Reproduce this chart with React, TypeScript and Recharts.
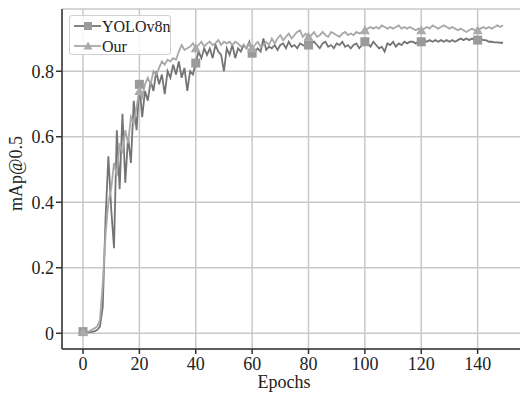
import { LineChart, Line, XAxis, YAxis, CartesianGrid, Legend } from 'recharts';

const epochs = Array.from({ length: 150 }, (_, i) => i);

const yolov8n = [
  0.005, 0.003, 0.003, 0.004, 0.006, 0.01, 0.02, 0.08, 0.35, 0.54,
  0.38, 0.26, 0.62, 0.44, 0.67, 0.46, 0.6, 0.52, 0.71, 0.62,
  0.76, 0.66, 0.74, 0.71, 0.77, 0.74, 0.8, 0.76, 0.79, 0.73,
  0.8, 0.78, 0.82, 0.79, 0.83, 0.78, 0.81, 0.74, 0.8, 0.79,
  0.825, 0.86, 0.84, 0.87, 0.85, 0.87, 0.84, 0.88, 0.86, 0.85,
  0.8, 0.87, 0.85, 0.88, 0.84, 0.87, 0.86, 0.88, 0.87, 0.89,
  0.855, 0.86, 0.87, 0.86, 0.9, 0.865, 0.875, 0.87, 0.88, 0.865,
  0.88, 0.885, 0.87, 0.89, 0.875, 0.88, 0.87, 0.885, 0.88, 0.875,
  0.88, 0.885, 0.89, 0.88, 0.87, 0.885, 0.89, 0.875, 0.88, 0.87,
  0.885, 0.88, 0.89, 0.875, 0.88, 0.87, 0.88, 0.885, 0.87, 0.88,
  0.89, 0.885, 0.875, 0.89, 0.88, 0.87, 0.875, 0.86, 0.885, 0.88,
  0.89, 0.875, 0.885, 0.88, 0.89, 0.885, 0.89, 0.89, 0.885, 0.89,
  0.89, 0.895, 0.89, 0.895, 0.89, 0.895, 0.89, 0.895, 0.89, 0.895,
  0.89, 0.895, 0.89, 0.895, 0.9, 0.895, 0.9, 0.895, 0.9, 0.895,
  0.895, 0.9, 0.895, 0.895, 0.89, 0.89, 0.888, 0.888, 0.887, 0.887,
];

const ours = [
  0.005, 0.004, 0.005, 0.01, 0.015, 0.02, 0.04, 0.15, 0.3, 0.4,
  0.44, 0.52, 0.48, 0.58, 0.55, 0.62, 0.58, 0.66, 0.64, 0.69,
  0.74, 0.72, 0.76, 0.78, 0.76, 0.8, 0.79, 0.81, 0.83, 0.82,
  0.835, 0.83, 0.84, 0.835, 0.86, 0.88, 0.865, 0.87, 0.875, 0.885,
  0.87, 0.88, 0.89, 0.875, 0.885, 0.89, 0.88, 0.885, 0.895, 0.88,
  0.89, 0.885, 0.89, 0.88, 0.89, 0.885, 0.875, 0.88, 0.87, 0.885,
  0.87, 0.88, 0.89, 0.875, 0.88, 0.89, 0.88, 0.9, 0.885, 0.9,
  0.91, 0.895, 0.905, 0.915, 0.9, 0.91, 0.92, 0.925, 0.905, 0.915,
  0.905, 0.91, 0.92, 0.905, 0.91, 0.92, 0.91, 0.905, 0.92, 0.915,
  0.91, 0.905, 0.915, 0.92, 0.91, 0.915, 0.91, 0.92, 0.915, 0.92,
  0.925, 0.93, 0.935, 0.93, 0.935, 0.93, 0.94, 0.935, 0.93, 0.935,
  0.93, 0.935, 0.94, 0.93, 0.935, 0.93, 0.935, 0.93, 0.925, 0.93,
  0.925, 0.93, 0.935, 0.93, 0.94, 0.935, 0.93, 0.935, 0.94, 0.935,
  0.93, 0.935, 0.93, 0.925, 0.93, 0.925, 0.92, 0.925, 0.93, 0.925,
  0.925, 0.93, 0.935, 0.93, 0.935, 0.93, 0.935, 0.94, 0.935, 0.94,
];

const xTicks = [0, 20, 40, 60, 80, 100, 120, 140];
const yTicks = [0, 0.2, 0.4, 0.6, 0.8];

const data = epochs.map((e, i) => ({ epoch: e, yolo: yolov8n[i], ours: ours[i] }));

const FONT = '"Liberation Serif", "DejaVu Serif", serif';
const YOLO_COLOR = '#747474';
const OUR_COLOR = '#a8a8a8';
const SQUARE_FILL = '#9a9a9a';
const TRI_FILL = '#aaaaaa';

const SquareDot = (props: any) => {
  const { cx, cy, index } = props;
  if (index % 20 !== 0 || cx == null) return <g key={`s${index}`} />;
  return <rect key={`s${index}`} x={cx - 4.5} y={cy - 4.5} width={9} height={9} fill={SQUARE_FILL} />;
};

const TriangleDot = (props: any) => {
  const { cx, cy, index } = props;
  if (index % 20 !== 0 || cx == null) return <g key={`t${index}`} />;
  return (
    <polygon
      key={`t${index}`}
      points={`${cx},${cy - 5} ${cx - 5},${cy + 4} ${cx + 5},${cy + 4}`}
      fill={TRI_FILL}
    />
  );
};

const LegendBox = () => (
  <div
    style={{
      width: 102,
      height: 40,
      border: '1px solid #d0d0d0',
      borderRadius: 3,
      background: 'rgba(255,255,255,0.85)',
      fontFamily: FONT,
      fontSize: 16,
      color: '#222',
      boxSizing: 'border-box',
    }}
  >
    <svg width={102} height={40} style={{ display: 'block' }}>
      <line x1={4} y1={10} x2={31} y2={10} stroke={YOLO_COLOR} strokeWidth={1.8} />
      <rect x={14} y={6} width={8} height={8} fill={SQUARE_FILL} />
      <text x={32} y={15.5} fontFamily={FONT} fontSize={16} fill="#222">YOLOv8n</text>
      <line x1={4} y1={30} x2={31} y2={30} stroke={OUR_COLOR} strokeWidth={1.8} />
      <polygon points="18,25.5 13.5,33.5 22.5,33.5" fill={TRI_FILL} />
      <text x={32} y={35.5} fontFamily={FONT} fontSize={16} fill="#222">Our</text>
    </svg>
  </div>
);

export default function App() {
  const tickStyle = { fontFamily: FONT, fontSize: 18, fill: '#222' };
  return (
    <div style={{ position: 'absolute', left: 0, top: 0, width: 520, height: 395, overflow: 'hidden', background: '#fff' }}>
      <LineChart
        width={530}
        height={395}
        data={data}
        margin={{ top: 9, right: 6, bottom: 0, left: 0 }}
      >
        <CartesianGrid stroke="#c8c8c8" strokeWidth={1.5} />
        <XAxis
          dataKey="epoch"
          type="number"
          domain={[-7.45, 156.45]}
          ticks={xTicks}
          allowDataOverflow
          height={46}
          tick={tickStyle}
          tickSize={5}
          tickMargin={3}
          stroke="#333"
          strokeWidth={1.5}
          label={{
            content: () => (
              <text x={284} y={388} textAnchor="middle" fontFamily={FONT} fontSize={18} fill="#222">
                Epochs
              </text>
            ),
          }}
        />
        <XAxis
          xAxisId="top"
          orientation="top"
          dataKey="epoch"
          type="number"
          domain={[-7.45, 156.45]}
          allowDataOverflow
          height={0}
          tick={false}
          tickLine={false}
          stroke="#333"
          strokeWidth={1.5}
        />
        <YAxis
          type="number"
          domain={[-0.048, 0.99]}
          ticks={yTicks}
          allowDataOverflow
          width={62}
          tick={tickStyle}
          tickSize={6}
          tickMargin={2}
          stroke="#333"
          strokeWidth={1.5}
          tickFormatter={(v: number) => (v === 0 ? '0' : v.toFixed(1))}
          label={{
            content: () => (
              <text
                x={22}
                y={173.5}
                textAnchor="middle"
                transform="rotate(-90 22 173.5)"
                fontFamily={FONT}
                fontSize={18}
                fill="#222"
              >
                mAp@0.5
              </text>
            ),
          }}
        />
        <Legend
          layout="horizontal"
          verticalAlign="middle"
          align="center"
          content={() => <LegendBox />}
          wrapperStyle={{ position: 'absolute', left: 69, top: 15, width: 104, height: 42 }}
        />
        <Line
          dataKey="yolo"
          name="YOLOv8n"
          stroke={YOLO_COLOR}
          strokeWidth={1.8}
          type="linear"
          dot={SquareDot}
          activeDot={false}
          isAnimationActive={false}
        />
        <Line
          dataKey="ours"
          name="Our"
          stroke={OUR_COLOR}
          strokeWidth={1.8}
          type="linear"
          dot={TriangleDot}
          activeDot={false}
          isAnimationActive={false}
        />
      </LineChart>
    </div>
  );
}
